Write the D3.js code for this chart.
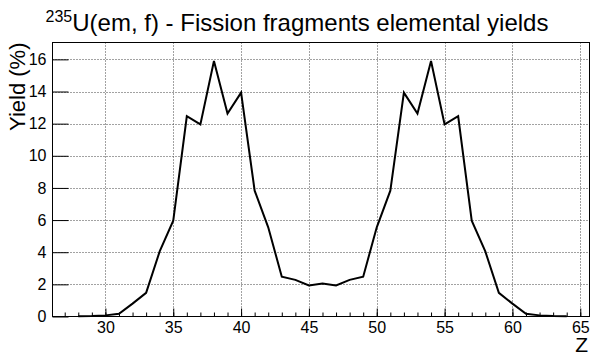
<!DOCTYPE html>
<html><head><meta charset="utf-8">
<script src="https://cdn.jsdelivr.net/npm/d3@7"></script>
<style>
html,body{margin:0;padding:0;background:#fff;}
svg{display:block;font-family:"Liberation Sans",Arial,Helvetica,sans-serif;}
</style></head>
<body>
<svg id="c" width="590" height="355"></svg>
<script>
const Z = [28,29,30,31,32,33,34,35,36,37,38,39,40,41,42,43,44,45,46,47,48,49,50,51,52,53,54,55,56,57,58,59,60,61,62,63,64];
const yieldPct = [0.02,0.03,0.07,0.17,0.8,1.47,4.05,5.96,12.46,11.95,15.9,12.63,13.93,7.83,5.55,2.48,2.28,1.93,2.05,1.93,2.28,2.48,5.55,7.83,13.93,12.63,15.9,11.95,12.46,5.96,4.05,1.47,0.8,0.17,0.07,0.03,0.02];
const xTicks = [30,35,40,45,50,55,60,65];
const yTicks = [0,2,4,6,8,10,12,14,16];
const titleSup = "235";
const titleMain = "U(em, f) - Fission fragments elemental yields";
const yLabel = "Yield (%)";
const xLabel = "Z";

const svg = d3.select("#c");
const L=52.5, R=589.5, T=42.5, B=316.5;
const x = d3.scaleLinear().domain([26.1, 65.68]).range([L, R]);
const y = d3.scaleLinear().domain([0, 17.05]).range([B, T]);

// grid
const g = svg.append("g");
g.selectAll(".gx").data(xTicks).join("line")
  .attr("x1", d=>Math.round(x(d))+0.5).attr("x2", d=>Math.round(x(d))+0.5)
  .attr("y1", T).attr("y2", B)
  .attr("stroke","#444").attr("stroke-width",1).attr("stroke-dasharray","1,2");
g.selectAll(".gy").data(yTicks.filter(d=>d>0)).join("line")
  .attr("y1", d=>Math.round(y(d))+0.5).attr("y2", d=>Math.round(y(d))+0.5)
  .attr("x1", L).attr("x2", R)
  .attr("stroke","#444").attr("stroke-width",1).attr("stroke-dasharray","1,2");

// frame
svg.append("rect").attr("x",L).attr("y",T).attr("width",R-L).attr("height",B-T)
  .attr("fill","none").attr("stroke","#000").attr("stroke-width",1);

// x axis
const xMinor = d3.range(27, 66);
const xa = d3.axisBottom(x).tickValues(xMinor).tickSize(-4).tickFormat("");
svg.append("g").attr("transform",`translate(0,${B})`).call(xa)
  .call(s=>{s.select(".domain").remove(); s.selectAll("line").attr("stroke","#000");});
const xaM = d3.axisBottom(x).tickValues(xTicks).tickSize(-8).tickPadding(5).tickFormat(d3.format("d"));
svg.append("g").attr("transform",`translate(0,${B})`).call(xaM)
  .call(s=>{s.select(".domain").remove(); s.selectAll("line").attr("stroke","#000");
    s.selectAll("text").attr("font-size",16).attr("font-family","Liberation Sans, Arial, sans-serif").attr("fill","#000");});

// y axis
const yaM = d3.axisLeft(y).tickValues(yTicks).tickSize(-16).tickPadding(6).tickFormat(d3.format("d"));
svg.append("g").attr("transform",`translate(${L},0)`).call(yaM)
  .call(s=>{s.select(".domain").remove(); s.selectAll("line").attr("stroke","#000");
    s.selectAll("text").attr("font-size",16).attr("font-family","Liberation Sans, Arial, sans-serif").attr("fill","#000");});

// line
const line = d3.line().x((d,i)=>x(Z[i])).y(d=>y(d));
svg.append("path").datum(yieldPct).attr("d", line)
  .attr("fill","none").attr("stroke","#000").attr("stroke-width",2).attr("stroke-linejoin","miter");

// title
const t = svg.append("text").attr("x", 297).attr("y", 31).attr("text-anchor","middle")
  .attr("font-size",24).attr("fill","#000");
t.append("tspan").attr("font-size",16).attr("dy",-9).text(titleSup);
t.append("tspan").attr("dy",9).text(titleMain);

// axis titles
svg.append("text").attr("transform",`translate(25,${T}) rotate(-90)`)
  .attr("text-anchor","end").attr("font-size",22).attr("fill","#000").text(yLabel);
svg.append("text").attr("x",588).attr("y",352).attr("text-anchor","end")
  .attr("font-size",21).attr("fill","#000").text(xLabel);
</script>
</body></html>
